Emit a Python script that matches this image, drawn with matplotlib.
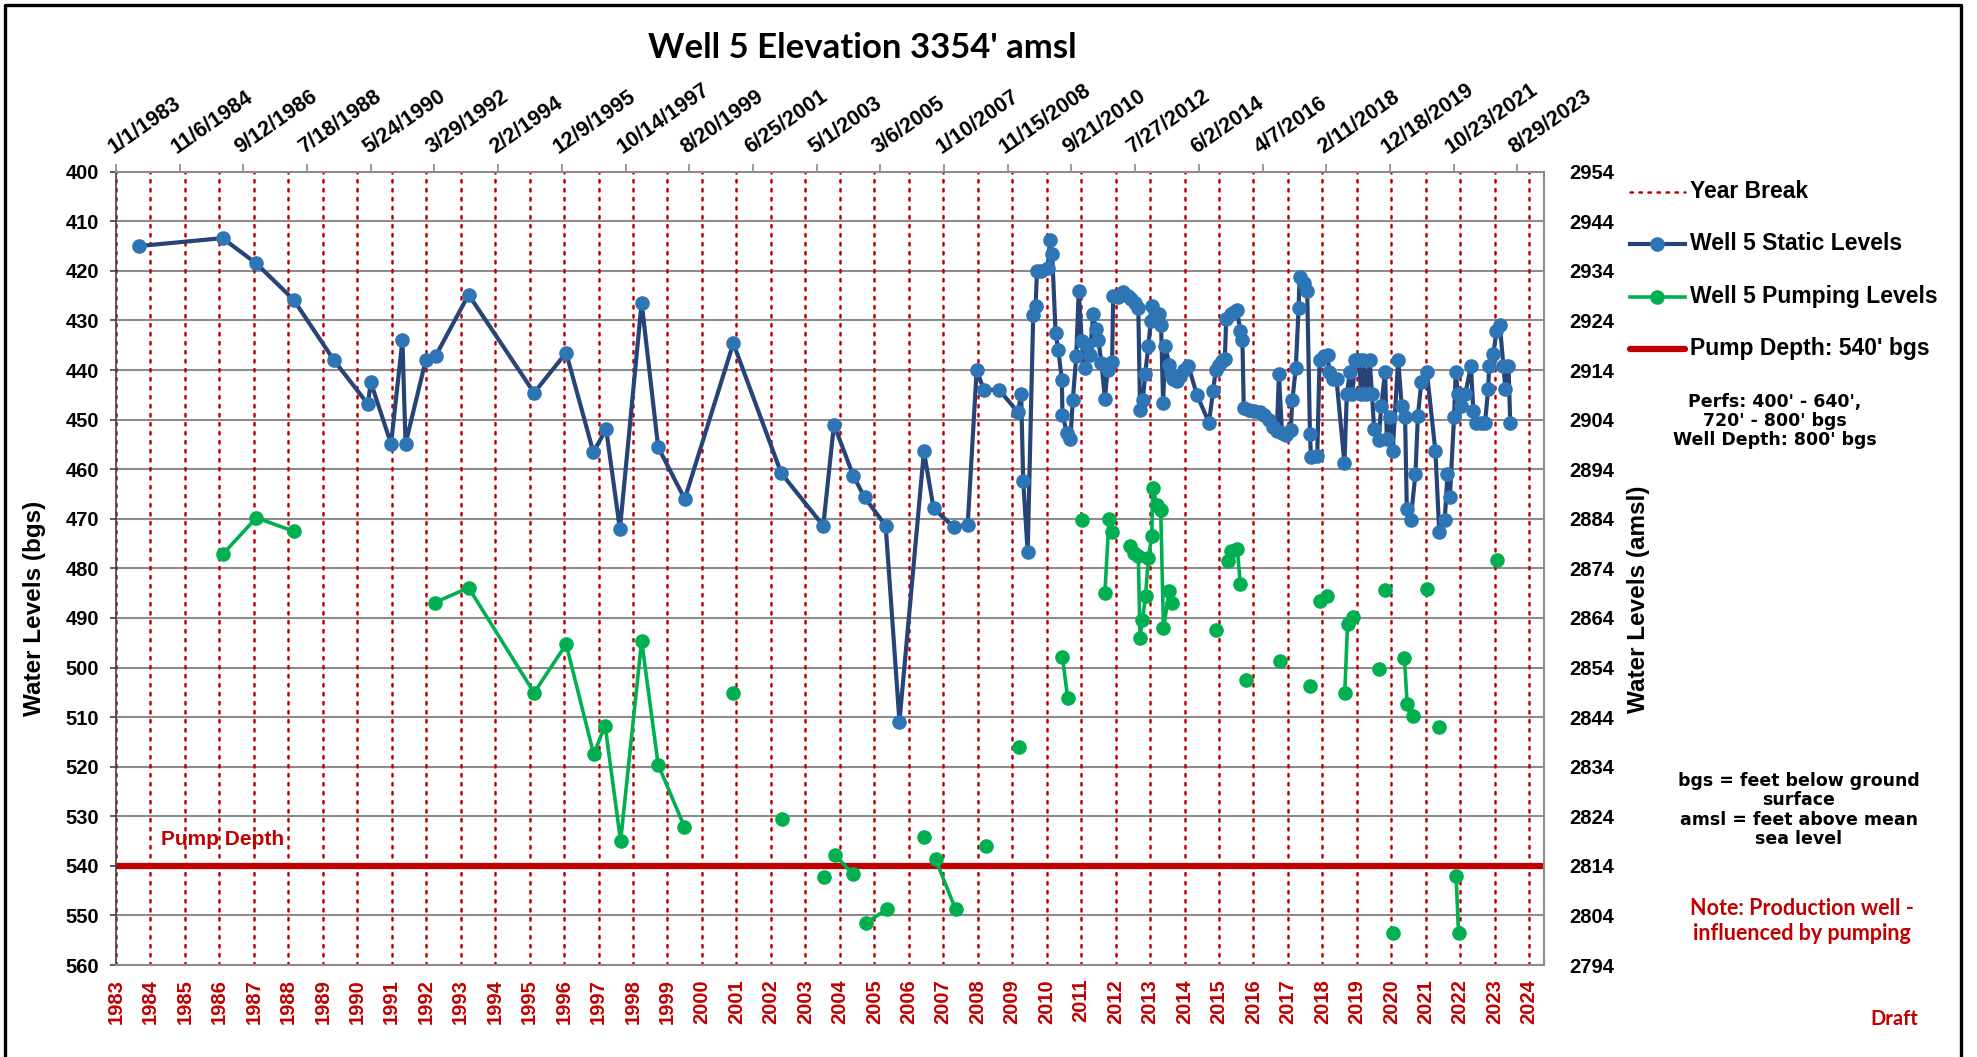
import numpy as np
import matplotlib
matplotlib.use("Agg")
import matplotlib.pyplot as plt
from matplotlib import font_manager as fm
from matplotlib.lines import Line2D
from datetime import datetime

# ---------------- data (decimal years, feet bgs) ----------------
static_years = [1983.66, 1986.09, 1987.07, 1988.15, 1989.32, 1990.31, 1990.39, 1990.98, 1991.31, 1991.40,
                1991.99, 1992.27, 1993.23, 1995.13, 1996.06, 1996.85, 1997.22, 1997.62, 1998.25, 1998.73,
                1999.50, 2000.91, 2002.30, 2003.52, 2003.83, 2004.39, 2004.72, 2005.33, 2005.73, 2006.44,
                2006.72, 2007.31, 2007.71, 2007.97, 2008.18, 2008.62, 2009.17, 2009.26, 2009.32, 2009.45,
                2009.61, 2009.68, 2009.72, 2009.85, 2010.03, 2010.10, 2010.16, 2010.26, 2010.34, 2010.44,
                2010.46, 2010.59, 2010.69, 2010.76, 2010.86, 2010.93, 2011.02, 2011.10, 2011.16, 2011.26,
                2011.35, 2011.42, 2011.50, 2011.59, 2011.69, 2011.77, 2011.90, 2011.93, 2012.08, 2012.21,
                2012.36, 2012.46, 2012.56, 2012.66, 2012.71, 2012.79, 2012.86, 2012.95, 2013.02, 2013.07,
                2013.15, 2013.26, 2013.32, 2013.38, 2013.44, 2013.56, 2013.61, 2013.68, 2013.77, 2013.87,
                2013.99, 2014.11, 2014.36, 2014.71, 2014.83, 2014.91, 2015.01, 2015.09, 2015.17, 2015.21,
                2015.35, 2015.45, 2015.52, 2015.62, 2015.68, 2015.72, 2015.86, 2016.02, 2016.20, 2016.32,
                2016.44, 2016.57, 2016.68, 2016.74, 2016.83, 2016.95, 2017.08, 2017.13, 2017.23, 2017.31,
                2017.34, 2017.46, 2017.56, 2017.64, 2017.67, 2017.85, 2017.92, 2018.05, 2018.15, 2018.20,
                2018.31, 2018.41, 2018.64, 2018.71, 2018.80, 2018.87, 2018.95, 2019.07, 2019.12, 2019.19,
                2019.28, 2019.37, 2019.44, 2019.50, 2019.63, 2019.71, 2019.82, 2019.87, 2019.95, 2020.04,
                2020.20, 2020.30, 2020.40, 2020.45, 2020.56, 2020.70, 2020.77, 2020.87, 2021.03, 2021.28,
                2021.39, 2021.55, 2021.63, 2021.70, 2021.82, 2021.87, 2021.93, 2022.01, 2022.15, 2022.31,
                2022.38, 2022.45, 2022.59, 2022.72, 2022.81, 2022.84, 2022.96, 2023.05, 2023.15, 2023.25,
                2023.31, 2023.40, 2023.45]
static_levels = [415.0, 413.4, 418.5, 425.8, 438.0, 446.9, 442.4, 454.9, 434.0, 454.9,
                 437.9, 437.2, 424.8, 444.6, 436.5, 456.6, 451.9, 472.1, 426.4, 455.6,
                 466.0, 434.6, 460.8, 471.4, 451.0, 461.3, 465.7, 471.4, 510.9, 456.4,
                 467.9, 471.7, 471.2, 440.0, 444.0, 444.0, 448.5, 444.8, 462.3, 476.8,
                 429.0, 427.0, 420.1, 420.1, 419.5, 413.7, 416.5, 432.5, 436.0, 442.0,
                 449.0, 452.8, 454.0, 446.0, 437.2, 424.0, 434.2, 439.6, 435.0, 437.0,
                 428.6, 431.8, 433.9, 438.6, 445.8, 439.9, 438.4, 425.1, 425.3, 424.3,
                 425.1, 425.7, 426.5, 427.5, 448.0, 446.0, 440.8, 435.2, 430.2, 427.1,
                 429.0, 428.8, 431.0, 446.7, 435.2, 438.9, 440.9, 441.9, 442.3, 441.3,
                 439.9, 439.1, 445.0, 450.6, 444.2, 439.9, 438.9, 438.2, 437.8, 429.8,
                 428.8, 428.2, 427.8, 432.1, 434.0, 447.7, 448.0, 448.3, 448.5, 449.0,
                 450.0, 451.4, 452.2, 440.9, 452.7, 453.2, 452.0, 446.1, 439.5, 427.5,
                 421.2, 422.4, 424.1, 452.9, 457.6, 457.4, 437.9, 437.2, 436.9, 440.3,
                 441.9, 441.9, 458.8, 444.8, 440.4, 444.8, 437.9, 437.9, 444.8, 437.9,
                 444.8, 437.9, 444.8, 451.9, 454.2, 447.2, 440.3, 454.0, 449.5, 456.4,
                 437.9, 447.2, 449.5, 468.0, 470.3, 461.0, 449.3, 442.5, 440.3, 456.4,
                 472.6, 470.3, 461.0, 465.7, 449.5, 440.3, 444.8, 447.2, 444.8, 439.1,
                 448.3, 450.6, 450.6, 450.6, 443.8, 439.1, 436.8, 432.2, 431.0, 439.1,
                 443.8, 439.1, 450.7]

nan = np.nan
pumping_years = [1986.09, 1987.07, 1988.15, nan,
                 1992.25, 1993.23, 1995.13, 1996.06, 1996.86, 1997.19, 1997.64, 1998.25, 1998.73, 1999.49, nan,
                 2000.91, nan, 2002.31, nan, 2003.54, nan, 2003.87, 2004.39, nan, 2004.76, 2005.36, nan,
                 2006.45, nan, 2006.78, 2007.36, nan, 2008.23, nan, 2009.19, nan, 2010.46, 2010.61, nan,
                 2011.04, nan, 2011.69, 2011.81, 2011.90, nan,
                 2012.43, 2012.54, 2012.66, 2012.71, 2012.78, 2012.87, 2012.95, 2013.05, 2013.08, 2013.20,
                 2013.31, 2013.39, 2013.56, 2013.63, nan,
                 2014.92, nan, 2015.27, 2015.35, 2015.53, 2015.62, nan, 2015.77, nan, 2016.76, nan,
                 2017.65, nan, 2017.93, 2018.13, nan, 2018.65, 2018.73, 2018.90, nan, 2019.65, nan,
                 2019.81, nan, 2020.04, nan, 2020.38, 2020.46, 2020.63, nan, 2021.03, nan, 2021.39, nan,
                 2021.88, 2021.95, nan, 2023.08]
pumping_levels = [477.2, 469.8, 472.5, nan,
                  486.9, 483.9, 505.1, 495.3, 517.5, 511.7, 535.0, 494.6, 519.6, 532.1, nan,
                  505.1, nan, 530.6, nan, 542.2, nan, 537.9, 541.7, nan, 551.5, 548.8, nan,
                  534.1, nan, 538.7, 548.8, nan, 536.0, nan, 516.0, nan, 497.9, 506.2, nan,
                  470.3, nan, 485.0, 470.0, 472.6, nan,
                  475.4, 477.0, 477.6, 494.0, 490.4, 485.6, 478.0, 473.5, 463.8, 467.2,
                  468.2, 492.1, 484.5, 487.0, nan,
                  492.4, nan, 478.5, 476.6, 476.1, 483.1, nan, 502.5, nan, 498.7, nan,
                  503.8, nan, 486.6, 485.6, nan, 505.1, 491.2, 489.9, nan, 500.4, nan,
                  484.3, nan, 553.6, nan, 498.1, 507.3, 509.7, nan, 484.2, nan, 512.0, nan,
                  542.1, 553.6, nan, 478.4]

pump_depth = 540
ground_elev = 3354
year_breaks = list(range(1983, 2025))
top_tick_labels = ["1/1/1983", "11/6/1984", "9/12/1986", "7/18/1988", "5/24/1990", "3/29/1992",
                   "2/2/1994", "12/9/1995", "10/14/1997", "8/20/1999", "6/25/2001", "5/1/2003",
                   "3/6/2005", "1/10/2007", "11/15/2008", "9/21/2010", "7/27/2012", "6/2/2014",
                   "4/7/2016", "2/11/2018", "12/18/2019", "10/23/2021", "8/29/2023"]
left_ticks = list(range(400, 561, 10))
right_ticks = list(range(2794, 2955, 10))

# ---------------- helpers ----------------
def has_font(name):
    try:
        fm.findfont(fm.FontProperties(family=name), fallback_to_default=False)
        return True
    except Exception:
        return False

ARIAL = "Liberation Sans"
NARROW = "Liberation Sans Narrow" if has_font("Liberation Sans Narrow") else "Liberation Sans"
CAL = "Lato" if has_font("Lato") else "DejaVu Sans"
WIDE = "DejaVu Sans"

def dec_year(s):
    d = datetime.strptime(s, "%m/%d/%Y")
    start = datetime(d.year, 1, 1)
    end = datetime(d.year + 1, 1, 1)
    return d.year + (d - start).days / (end - start).days

W, H = 1977, 1057
fig = plt.figure(figsize=(W / 100, H / 100), dpi=100)
fig.patch.set_facecolor("white")

def fx(x):
    return x / W

def fy(y):
    return 1 - y / H

L, R, T, B = 116, 1544, 171.7, 965
ax = fig.add_axes([fx(L), fy(B), fx(R) - fx(L), fy(T) - fy(B)])

RED = "#C00000"
BLUE_LINE = "#264478"
BLUE_MK = "#2E75B6"
GREEN = "#00B050"
GRID = "#8C8C8C"

ax.set_xlim(1983.0, 2024.43)
ax.set_ylim(560, 400)

ax.set_yticks(left_ticks)
ax.yaxis.grid(True, color=GRID, lw=1.5, zorder=0)
ax.set_axisbelow(True)

for yb in year_breaks:
    ax.axvline(yb, color=RED, lw=1.8, dashes=(1, 2.6), dash_capstyle="round", zorder=1)

ax.axhline(pump_depth, color=RED, lw=4.5, zorder=2)

ax.plot(static_years, static_levels, color=BLUE_LINE, lw=3.0, marker="o", ms=9.5,
        mfc=BLUE_MK, mec=BLUE_MK, zorder=4, solid_joinstyle="round")
ax.plot(pumping_years, pumping_levels, color=GREEN, lw=2.6, marker="o", ms=9.5,
        mfc=GREEN, mec=GREEN, zorder=5, solid_joinstyle="round")

for s in ["top", "right", "bottom"]:
    ax.spines[s].set_color(GRID)
    ax.spines[s].set_linewidth(1.5)
ax.spines["left"].set_color("#404040")
ax.spines["left"].set_linewidth(1.2)

# left ticks
ax.tick_params(axis="y", which="major", length=4, width=1.2, color="#404040", pad=8)
for lab in ax.get_yticklabels():
    lab.set_fontfamily(ARIAL)
    lab.set_fontweight("bold")
    lab.set_fontsize(14.5)

# bottom year labels
ax.set_xticks(year_breaks)
ax.set_xticklabels([str(y) for y in year_breaks], rotation=90, color=RED,
                   fontfamily=ARIAL, fontweight="bold", fontsize=14.5)
ax.tick_params(axis="x", length=0, pad=10)

# top date axis
top = ax.secondary_xaxis("top")
top.set_xticks([dec_year(s) for s in top_tick_labels])
top.set_xticklabels(top_tick_labels, fontfamily=ARIAL, fontweight="bold", fontsize=15.5)
top.tick_params(axis="x", length=6, width=1.2, color=GRID, pad=4)
top.spines["top"].set_visible(False)
for lab in top.get_xticklabels():
    lab.set_rotation(35)
    lab.set_rotation_mode("anchor")
    lab.set_ha("left")
    lab.set_va("bottom")

# right amsl axis
right = ax.secondary_yaxis("right", functions=(lambda v: ground_elev - v, lambda a: ground_elev - a))
right.set_yticks(right_ticks)
right.tick_params(axis="y", length=0, pad=18)
right.spines["right"].set_visible(False)
for lab in right.get_yticklabels():
    lab.set_fontfamily(ARIAL)
    lab.set_fontweight("bold")
    lab.set_fontsize(14.5)

# axis titles
fig.text(fx(35), fy(608), "Water Levels (bgs)", rotation=90, ha="center", va="center",
         fontfamily=ARIAL, fontweight="bold", fontsize=17.5)
fig.text(fx(1639), fy(599), "Water Levels (amsl)", rotation=90, ha="center", va="center",
         fontfamily=ARIAL, fontweight="bold", fontsize=17.5)

# title
fig.text(fx(862), fy(48), "Well 5 Elevation 3354' amsl", ha="center", va="center",
         fontfamily=CAL, fontweight="bold", fontsize=25)

# pump depth label
ax.text(1984.3, 534.6, "Pump Depth", color=RED, fontfamily=NARROW, fontweight="bold",
        fontsize=15, ha="left", va="center", zorder=6)

# legend (manual, figure coordinates)
leg_rows = [
    (192, dict(color=RED, lw=1.8, dashes=(1, 2.6), dash_capstyle="round"), None, "Year Break"),
    (244, dict(color=BLUE_LINE, lw=3.0), BLUE_MK, "Well 5 Static Levels"),
    (297, dict(color=GREEN, lw=2.6), GREEN, "Well 5 Pumping Levels"),
    (349, dict(color=RED, lw=4.5, solid_capstyle="round"), None, "Pump Depth: 540' bgs"),
]
for yrow, style, mk, label in leg_rows:
    fig.add_artist(Line2D([fx(1630), fx(1685)], [fy(yrow), fy(yrow)], transform=fig.transFigure, **style))
    if mk is not None:
        fig.add_artist(Line2D([fx(1657)], [fy(yrow)], transform=fig.transFigure, marker="o",
                              ms=9.5, mfc=mk, mec=mk, ls="none"))
    fig.text(fx(1690), fy(yrow), label, ha="left", va="center", fontfamily=ARIAL,
             fontweight="bold", fontsize=16.5)

# notes
fig.text(fx(1775), fy(421), "Perfs: 400' - 640',\n720' - 800' bgs\nWell Depth: 800' bgs",
         ha="center", va="center", fontfamily=WIDE, fontweight="bold", fontsize=12.5,
         linespacing=1.1)
fig.text(fx(1799), fy(810), "bgs = feet below ground\nsurface\namsl = feet above mean\nsea level",
         ha="center", va="center", fontfamily=WIDE, fontweight="bold", fontsize=12.5,
         linespacing=1.1)
fig.text(fx(1802), fy(921), "Note: Production well -\ninfluenced by pumping", ha="center",
         va="center", color=RED, fontfamily=CAL, fontweight="bold", fontsize=15.5,
         linespacing=1.2)
fig.text(fx(1894), fy(1019), "Draft", ha="center", va="center", color=RED, fontfamily=CAL,
         fontweight="bold", fontsize=14.5)

# outer frame (left, top, right)
fig.add_artist(Line2D([fx(5), fx(5), fx(1961), fx(1961)], [0, fy(5), fy(5), 0],
                      transform=fig.transFigure, color="black", lw=2.4))

fig.savefig("out.png", dpi=100, facecolor="white")
